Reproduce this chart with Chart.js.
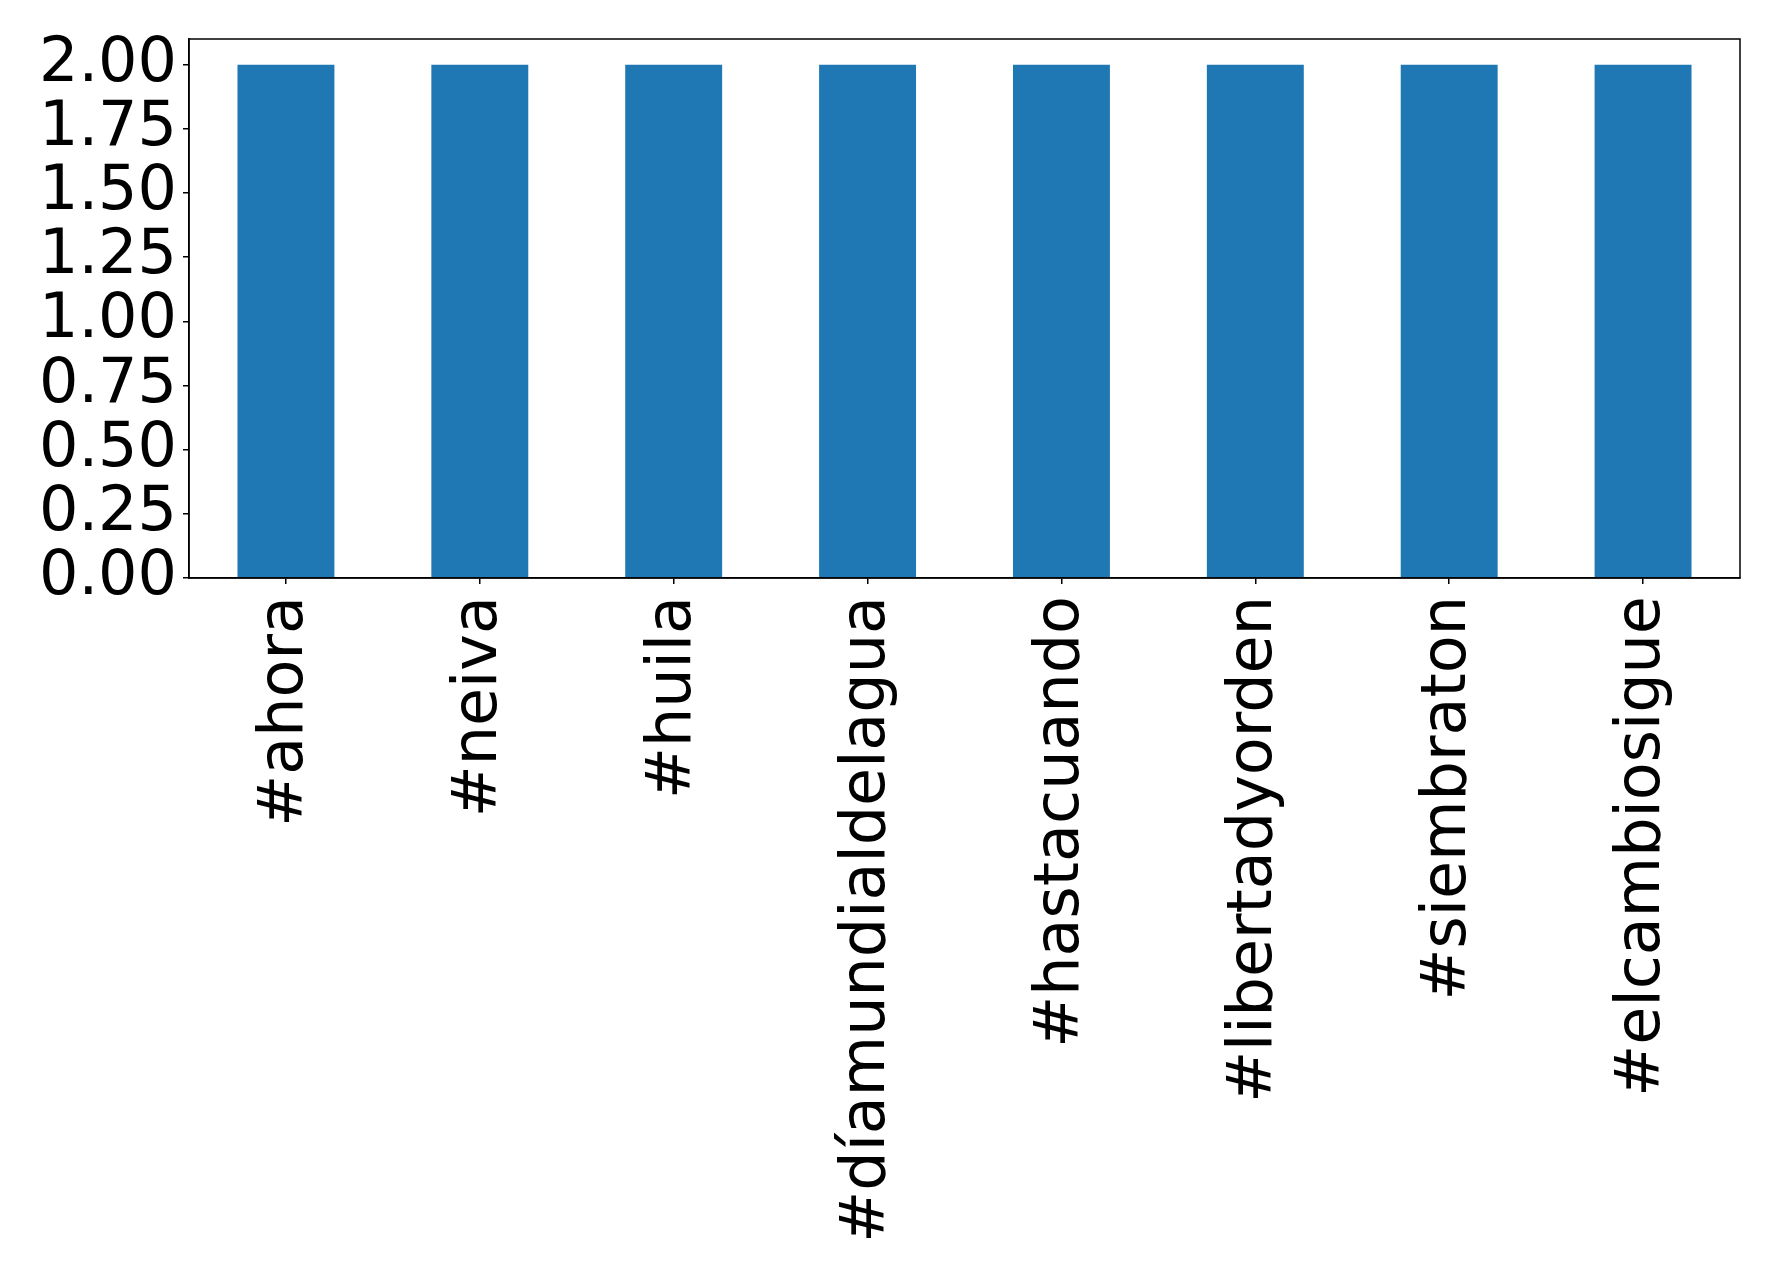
<!DOCTYPE html>
<html>
<head>
<meta charset="utf-8">
<script src="https://cdn.jsdelivr.net/npm/chart.js@4/dist/chart.umd.min.js"></script>
<style>
html,body{margin:0;padding:0;background:#fff;}
#wrap{width:1778px;height:1279px;}
</style>
</head>
<body>
<div id="wrap"><canvas id="c" width="1778" height="1279"></canvas></div>
<script>
const categories = ["#ahora", "#neiva", "#huila", "#díamundialdelagua", "#hastacuando", "#libertadyorden", "#siembraton", "#elcambiosigue"];
const counts = [2, 2, 2, 2, 2, 2, 2, 2];
const yTicks = [0, 0.25, 0.5, 0.75, 1.0, 1.25, 1.5, 1.75, 2.0];

const FONT = {family: "'DejaVu Sans', sans-serif", size: 62};

const frame = {
  id: 'frame',
  afterDraw(chart) {
    const a = chart.chartArea, ctx = chart.ctx;
    ctx.save();
    ctx.strokeStyle = '#000';
    ctx.lineWidth = 1.5;
    ctx.strokeRect(a.left, a.top, a.right - a.left, a.bottom - a.top);
    ctx.restore();
  }
};

new Chart(document.getElementById('c'), {
  type: 'bar',
  data: {
    labels: categories,
    datasets: [{
      data: counts,
      backgroundColor: '#1f77b4',
      borderWidth: 0,
      barPercentage: 0.5,
      categoryPercentage: 1.0
    }]
  },
  options: {
    responsive: false,
    devicePixelRatio: 1,
    animation: false,
    layout: {padding: {left: 0, top: 39, right: 38, bottom: 0}},
    plugins: {legend: {display: false}, tooltip: {enabled: false}},
    scales: {
      x: {
        grid: {offset: false, drawOnChartArea: false, drawTicks: true, tickLength: 6, color: '#000', lineWidth: 1.5},
        border: {display: true, color: '#000', width: 1.5},
        ticks: {color: '#000', font: FONT, minRotation: 90, maxRotation: 90, autoSkip: false, padding: 12},
        afterFit(s) { s.height = 701; s.paddingLeft = 0; s.paddingRight = 0; }
      },
      y: {
        min: 0,
        max: 2.1,
        grid: {drawOnChartArea: false, drawTicks: true, tickLength: 6, color: '#000', lineWidth: 1.5},
        border: {display: true, color: '#000', width: 1.5},
        ticks: {color: '#000', font: FONT, padding: 6, includeBounds: false, autoSkip: false,
          callback: v => Number(v).toFixed(2)},
        afterBuildTicks(s) { s.ticks = yTicks.map(v => ({value: v})); },
        afterFit(s) { s.width = 189; s.paddingTop = 0; s.paddingBottom = 0; }
      }
    }
  },
  plugins: [frame]
});
</script>
</body>
</html>
